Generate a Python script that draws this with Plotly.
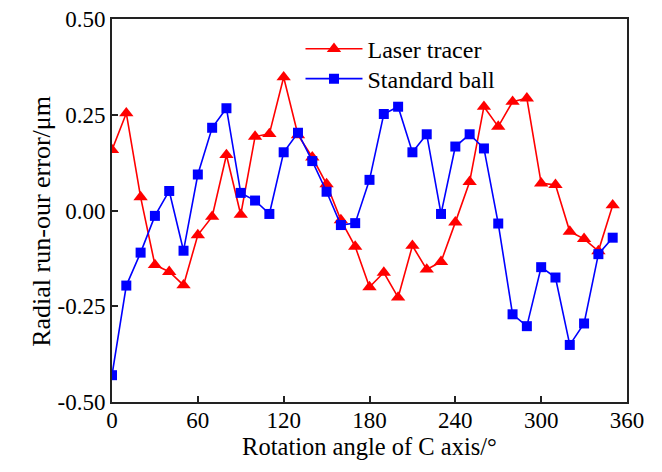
import plotly.graph_objects as go

angles = [0, 10, 20, 30, 40, 50, 60, 70, 80, 90, 100, 110, 120, 130, 140, 150, 160, 170,
          180, 190, 200, 210, 220, 230, 240, 250, 260, 270, 280, 290, 300, 310, 320, 330, 340, 350]

laser_tracer = [0.158, 0.254, 0.035, -0.142, -0.160, -0.195, -0.064, -0.016, 0.145, -0.011,
                0.193, 0.200, 0.348, 0.197, 0.139, 0.069, -0.025, -0.094, -0.200, -0.162,
                -0.227, -0.092, -0.154, -0.134, -0.031, 0.075, 0.271, 0.219, 0.284, 0.293,
                0.071, 0.067, -0.055, -0.074, -0.106, 0.014]

standard_ball = [-0.430, -0.196, -0.110, -0.014, 0.051, -0.105, 0.094, 0.216, 0.267, 0.046,
                 0.026, -0.009, 0.152, 0.203, 0.129, 0.049, -0.038, -0.033, 0.080, 0.252,
                 0.271, 0.152, 0.199, -0.009, 0.167, 0.199, 0.162, -0.034, -0.271, -0.302,
                 -0.148, -0.175, -0.351, -0.295, -0.114, -0.071]

x_ticks = [0, 60, 120, 180, 240, 300, 360]
y_ticks = [-0.50, -0.25, 0.00, 0.25, 0.50]
y_tick_labels = ["-0.50", "-0.25", "0.00", "0.25", "0.50"]

FONT = "Liberation Serif, Times New Roman, serif"

fig = go.Figure()
fig.add_trace(go.Scatter(
    x=angles, y=laser_tracer, mode="lines+markers", name="Laser tracer",
    line=dict(color="#ff0000", width=1.6),
    marker=dict(symbol="triangle-up", size=12.5, color="#ff0000"),
    legend="legend", showlegend=True,
))
fig.add_trace(go.Scatter(
    x=angles, y=standard_ball, mode="lines+markers", name="Standard ball",
    line=dict(color="#0000ff", width=1.6),
    marker=dict(symbol="square", size=10, color="#0000ff"),
    legend="legend2", showlegend=True,
))

axis_common = dict(
    showline=True, linecolor="#222222", linewidth=1.8, mirror=True,
    ticks="inside", ticklen=6, tickwidth=1.6, tickcolor="#222222",
    showgrid=False, zeroline=False,
    tickfont=dict(family=FONT, size=23, color="black"),
)

fig.update_xaxes(
    range=[0, 360], tickvals=x_ticks, ticklabelstandoff=-4,
    title=dict(text="Rotation angle of C axis/°", font=dict(family=FONT, size=24.5, color="black"), standoff=6),
    **axis_common,
)
fig.update_yaxes(
    range=[-0.5, 0.5], tickvals=y_ticks, ticktext=y_tick_labels,
    **axis_common,
)

legend_common = dict(
    xanchor="left", yanchor="top",
    bgcolor="rgba(0,0,0,0)", borderwidth=0,
    font=dict(family=FONT, size=24, color="black"),
    itemwidth=57,
)

fig.update_layout(
    width=662, height=472,
    showlegend=True,
    margin=dict(l=112, r=35, t=19, b=70, autoexpand=False),
    paper_bgcolor="white", plot_bgcolor="white",
    font=dict(family=FONT, color="black"),
    legend=dict(x=0.366, y=0.98, **legend_common),
    legend2=dict(x=0.366, y=0.902, **legend_common),
    annotations=[dict(
        text="Radial run-our error/μm", textangle=-90,
        xref="paper", yref="paper", x=-0.136, y=0.473,
        xanchor="center", yanchor="middle", showarrow=False,
        font=dict(family=FONT, size=26, color="black"),
    )],
)

fig.write_html("out.html")
